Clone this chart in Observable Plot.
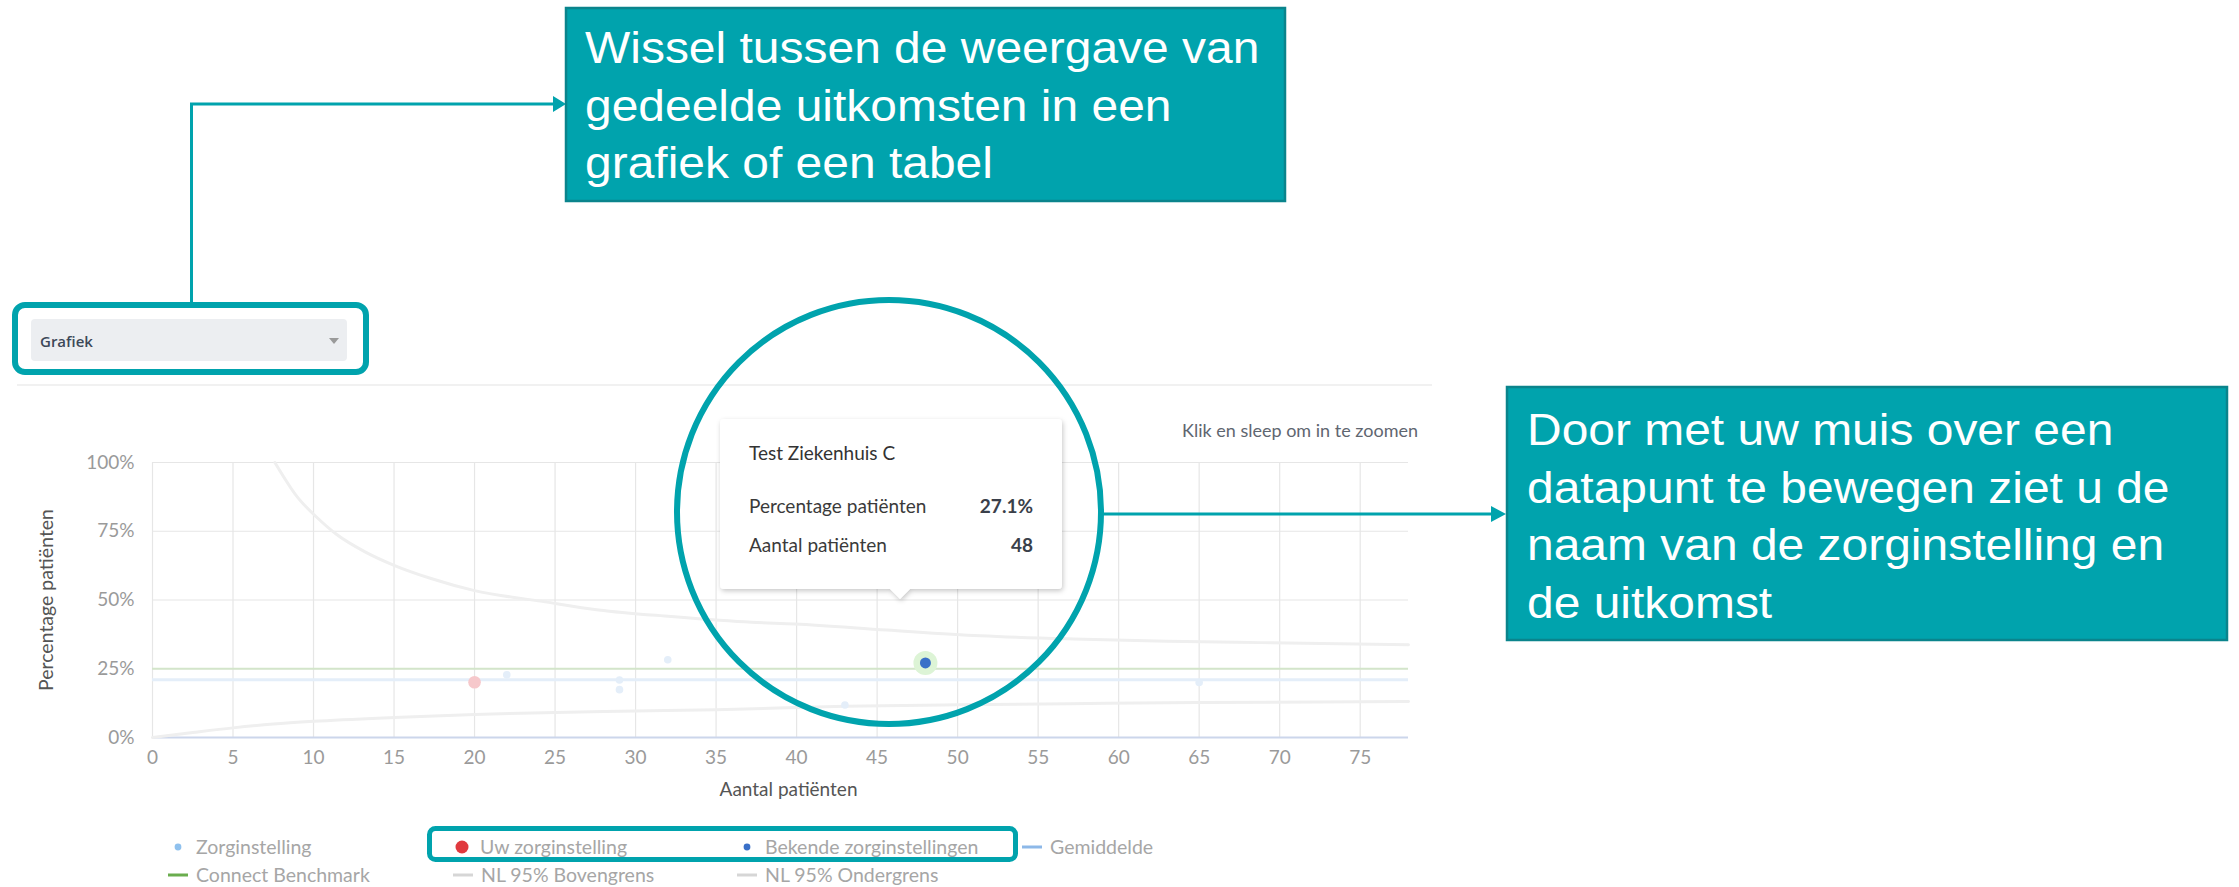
<!DOCTYPE html>
<html>
<head>
<meta charset="utf-8">
<script src="https://cdn.jsdelivr.net/npm/d3@7"></script>
<script src="https://cdn.jsdelivr.net/npm/@observablehq/plot@0.6"></script>
<style>
  body { margin: 0; background: #fff; }
  #page { position: relative; width: 2239px; height: 887px; overflow: hidden; background: #fff; }
  #page > svg { position: absolute; left: 0; top: 0; }
</style>
</head>
<body>
<div id="page"></div>
<script>
// ---------- data ----------
const xTicks = [0, 5, 10, 15, 20, 25, 30, 35, 40, 45, 50, 55, 60, 65, 70, 75];
const yTicks = [0, 25, 50, 75, 100];

// Zorginstelling (other hospitals)
const zorgN   = [22, 29, 29, 32, 43, 65];
const zorgPct = [22.8, 20.9, 17.4, 28.3, 11.8, 20.0];

// Uw zorginstelling
const uwN   = [20];
const uwPct = [20.1];

// Bekende zorginstellingen
const bekendNaam = ["Test Ziekenhuis C"];
const bekendN    = [48];
const bekendPct  = [27.1];

// Reference lines
const gemiddeldePct = [21.0];
const benchmarkPct  = [25.0];

// NL 95% Bovengrens
const bovenN   = [7.6, 9, 10.2, 11.4, 13.2, 15, 17.3, 20, 24.2, 27.7, 32.2, 37.2, 39.9, 45.6, 51.4, 57.2, 63, 68.8, 78];
const bovenPct = [100, 87.4, 80.1, 74.0, 67.5, 62.6, 57.8, 53.4, 49.5, 46.4, 44.0, 41.9, 41.3, 39.1, 37.0, 35.8, 35.0, 34.5, 33.7];

// NL 95% Ondergrens
const onderN   = [0, 2.5, 5, 7.5, 10, 15, 20, 25, 30, 35, 43, 50, 57, 65, 78];
const onderPct = [0, 1.8, 3.5, 4.9, 5.9, 7.3, 8.4, 9.1, 9.6, 10.1, 11.4, 11.9, 12.3, 12.7, 13.1];

// Legend
const legendLabels = ["Zorginstelling", "Uw zorginstelling", "Bekende zorginstellingen", "Gemiddelde",
                      "Connect Benchmark", "NL 95% Bovengrens", "NL 95% Ondergrens"];
const legendTypes  = ["dot", "bigdot", "dot", "line", "line", "line", "line"];
const legendColors = ["#8fc1ee", "#e0393e", "#3a70c8", "#8db8e8", "#6aad4e", "#d6d6d6", "#d6d6d6"];

// Annotation texts
const calloutTop   = ["Wissel tussen de weergave van", "gedeelde uitkomsten in een", "grafiek of een tabel"];
const calloutRight = ["Door met uw muis over een", "datapunt te bewegen ziet u de", "naam van de zorginstelling en", "de uitkomst"];
const dropdownLabel = "Grafiek";
const zoomHint = "Klik en sleep om in te zoomen";
const xTitle = "Aantal patiënten";
const yTitle = "Percentage patiënten";

// ---------- tables ----------
const zorg   = zorgN.map((n, i) => ({n, p: zorgPct[i]}));
const uw     = uwN.map((n, i) => ({n, p: uwPct[i]}));
const bekend = bekendN.map((n, i) => ({n, p: bekendPct[i], naam: bekendNaam[i]}));
const boven  = bovenN.map((n, i) => ({n, p: bovenPct[i]}));
const onder  = onderN.map((n, i) => ({n, p: onderPct[i]}));

// ---------- chart ----------
const chart = Plot.plot({
  width: 2239,
  height: 887,
  marginLeft: 152,
  marginRight: 831,
  marginTop: 462,
  marginBottom: 150,
  style: {fontFamily: "Lato, 'Open Sans', sans-serif", fontSize: "19px", color: "#9a9a9a", background: "#fff", overflow: "visible"},
  x: {domain: [0, 78], ticks: xTicks, tickSize: 0, tickPadding: 13, label: null},
  y: {domain: [0, 100], ticks: yTicks, tickSize: 0, tickPadding: 18, tickFormat: d => d + "%", label: null},
  marks: [
    Plot.ruleX(xTicks, {stroke: "#e6e6e6", strokeWidth: 1.2}),
    Plot.ruleY(yTicks, {stroke: "#e6e6e6", strokeWidth: 1.2}),
    Plot.ruleY([0], {stroke: "#ccd6eb", strokeWidth: 2}),
    Plot.line(boven, {x: "n", y: "p", stroke: "#efefef", strokeWidth: 3, curve: "monotone-x"}),
    Plot.line(onder, {x: "n", y: "p", stroke: "#efefef", strokeWidth: 3, curve: "monotone-x"}),
    Plot.ruleY(gemiddeldePct, {stroke: "#e4eef9", strokeWidth: 3}),
    Plot.ruleY(benchmarkPct, {stroke: "#d3e5ca", strokeWidth: 2}),
    Plot.dot(zorg, {x: "n", y: "p", r: 3.8, fill: "#e4eef9"}),
    Plot.dot(uw, {x: "n", y: "p", r: 6.3, fill: "#f6c8cb"}),
    Plot.dot(bekend, {x: "n", y: "p", r: 12, fill: "#ddf4d6"}),
    Plot.dot(bekend, {x: "n", y: "p", r: 5.5, fill: "#3a70c8"}),
    Plot.text([yTitle], {frameAnchor: "left", textAnchor: "middle", rotate: -90, dx: -106, fill: "#555", fontSize: 19.5}),
    Plot.text([xTitle], {frameAnchor: "bottom", textAnchor: "middle", dy: 58, dx: 8, fill: "#555", fontSize: 19})
  ]
});
document.getElementById("page").appendChild(chart);

// ---------- overlay annotations ----------
const overlay = d3.select("#page").append("svg")
  .attr("width", 2239).attr("height", 887)
  .attr("viewBox", "0 0 2239 887")
  .style("pointer-events", "none");

const defs = overlay.append("defs");
const filt = defs.append("filter").attr("id", "shadow").attr("x", "-10%").attr("y", "-10%").attr("width", "120%").attr("height", "130%");
filt.append("feDropShadow").attr("dx", 1).attr("dy", 2).attr("stdDeviation", 2.5).attr("flood-color", "#000").attr("flood-opacity", 0.22);

const teal = "#00a3ad";

// top border of chart container
overlay.append("line").attr("x1", 17).attr("x2", 1432).attr("y1", 385).attr("y2", 385)
  .attr("stroke", "#f1f1f1").attr("stroke-width", 2);

// zoom hint
overlay.append("text").attr("x", 1418).attr("y", 437).attr("text-anchor", "end")
  .attr("font-family", "Lato, sans-serif").attr("font-size", 18).attr("fill", "#5f6670").text(zoomHint);

// tooltip
const tt = overlay.append("g");
tt.append("path")
  .attr("d", "M724,419 H1058 Q1062,419 1062,423 V585 Q1062,589 1058,589 H910 L900,599 L890,589 H724 Q720,589 720,585 V423 Q720,419 724,419 Z")
  .attr("fill", "#fff").attr("filter", "url(#shadow)");
const ttFont = "Lato, sans-serif";
tt.append("text").attr("x", 749).attr("y", 460).attr("font-family", ttFont).attr("font-size", 19).attr("fill", "#333").text(bekend[0].naam);
tt.append("text").attr("x", 749).attr("y", 513).attr("font-family", ttFont).attr("font-size", 19).attr("fill", "#3a3a3a").text("Percentage patiënten");
tt.append("text").attr("x", 1033).attr("y", 513).attr("text-anchor", "end").attr("font-family", ttFont).attr("font-size", 19).attr("font-weight", 700).attr("fill", "#3a3f4a").text(d3.format(".1f")(bekend[0].p) + "%");
tt.append("text").attr("x", 749).attr("y", 552).attr("font-family", ttFont).attr("font-size", 19).attr("fill", "#3a3a3a").text("Aantal patiënten");
tt.append("text").attr("x", 1033).attr("y", 552).attr("text-anchor", "end").attr("font-family", ttFont).attr("font-size", 19).attr("font-weight", 700).attr("fill", "#3a3f4a").text(bekend[0].n);

// legend
const legendPos = [[168, 847], [452, 847], [737, 847], [1022, 847], [168, 875], [453, 875], [737, 875]];
const lg = overlay.append("g");
legendLabels.forEach((lab, i) => {
  const [x, y] = legendPos[i];
  const t = legendTypes[i];
  if (t === "line") {
    lg.append("line").attr("x1", x).attr("x2", x + 20).attr("y1", y).attr("y2", y)
      .attr("stroke", legendColors[i]).attr("stroke-width", 3);
  } else {
    lg.append("circle").attr("cx", x + 10).attr("cy", y).attr("r", t === "bigdot" ? 6.5 : 3.4).attr("fill", legendColors[i]);
  }
  lg.append("text").attr("x", x + 28).attr("y", y + 6.5)
    .attr("font-family", "Lato, sans-serif").attr("font-size", 19.5).attr("fill", "#a6a6a6").text(lab);
});

// legend highlight
overlay.append("rect").attr("x", 429.5).attr("y", 828.5).attr("width", 586).attr("height", 31).attr("rx", 6)
  .attr("fill", "none").attr("stroke", teal).attr("stroke-width", 5);

// dropdown
overlay.append("rect").attr("x", 31).attr("y", 319).attr("width", 316).attr("height", 42).attr("rx", 4).attr("fill", "#eceef1");
overlay.append("text").attr("x", 40).attr("y", 347).attr("font-family", "'Open Sans', sans-serif").attr("font-size", 15)
  .attr("font-weight", 600).attr("fill", "#3c4858").text(dropdownLabel);
overlay.append("path").attr("d", "M329,338 L339,338 L334,344 Z").attr("fill", "#9a9a9a");
overlay.append("rect").attr("x", 15).attr("y", 305).attr("width", 351).attr("height", 67).attr("rx", 10)
  .attr("fill", "none").attr("stroke", teal).attr("stroke-width", 6);

// connector from dropdown to top callout
overlay.append("path").attr("d", "M191.5,302 V104 H556").attr("fill", "none").attr("stroke", teal).attr("stroke-width", 3);
overlay.append("path").attr("d", "M553,96 L566,104 L553,112 Z").attr("fill", teal);

// big circle around tooltip
overlay.append("circle").attr("cx", 889).attr("cy", 512).attr("r", 212)
  .attr("fill", "none").attr("stroke", teal).attr("stroke-width", 6);

// connector from circle to right callout
overlay.append("line").attr("x1", 1102).attr("x2", 1494).attr("y1", 514).attr("y2", 514).attr("stroke", teal).attr("stroke-width", 3);
overlay.append("path").attr("d", "M1491,506 L1506,514 L1491,522 Z").attr("fill", teal);

// callout boxes
function callout(x, y, w, h, lines, tx, ty) {
  overlay.append("rect").attr("x", x).attr("y", y).attr("width", w).attr("height", h)
    .attr("fill", teal).attr("stroke", "#0a848c").attr("stroke-width", 2.5);
  lines.forEach((line, i) => {
    overlay.append("text")
      .attr("transform", `translate(${tx},${ty + i * 57.5}) scale(1.09,1)`)
      .attr("font-family", "'Liberation Sans', Arial, sans-serif").attr("font-size", 44).attr("fill", "#fff")
      .text(line);
  });
}
callout(566, 8, 719, 193, calloutTop, 585, 63);
callout(1507, 387, 720, 253, calloutRight, 1527, 445);
</script>
</body>
</html>
